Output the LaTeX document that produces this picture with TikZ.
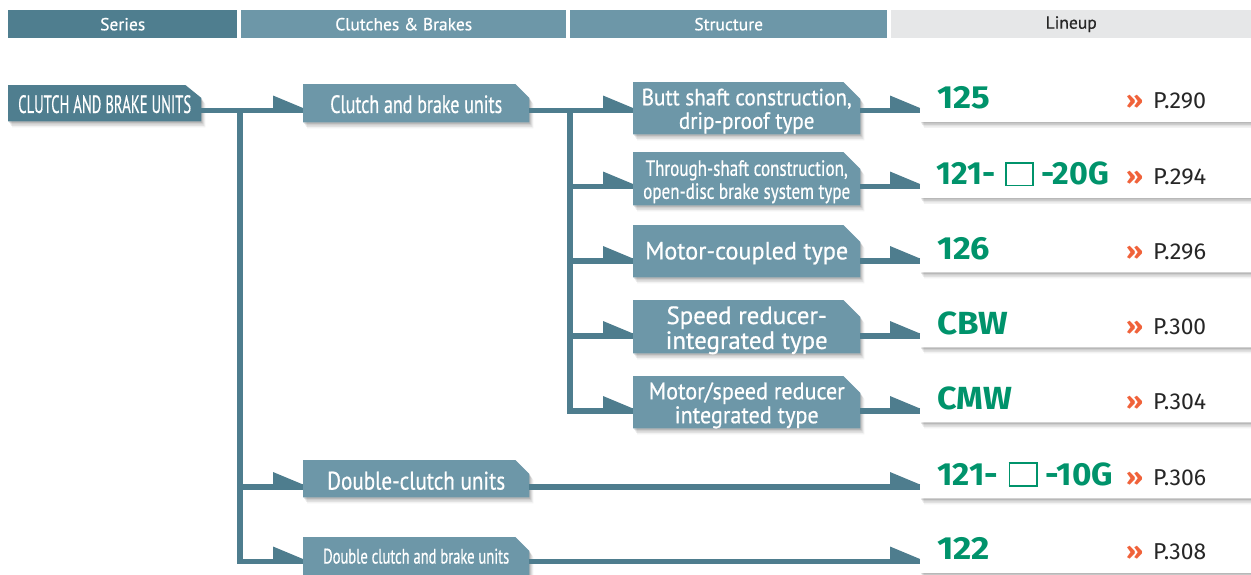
\documentclass[tikz,border=0pt]{standalone}
\usepackage{fontspec}
\setmainfont{PT Sans}[FakeBold=0.6]
\newfontfamily\numfont{Fira Sans}
\usetikzlibrary{calc,backgrounds}
\definecolor{dk}{RGB}{79,126,143}
\definecolor{lt}{RGB}{109,151,168}
\definecolor{ln}{RGB}{78,125,142}
\definecolor{hdgray}{RGB}{230,231,232}
\definecolor{grn}{RGB}{0,147,107}
\definecolor{org}{RGB}{240,98,58}
\newcommand\fitw[2]{\resizebox{#1}{\height}{#2}}
\newcommand\dn[2]{\raisebox{-#1}[\height][\depth]{#2}}
\newcommand\sqbox{\textcolor{grn}{\setlength\fboxrule{1.8pt}\setlength\fboxsep{0pt}\fbox{\rule{0pt}{21pt}\rule{25pt}{0pt}}}}
\newcommand\cutshape[4]{%
  \begin{scope}[on background layer]
    \foreach \sx/\sy/\op in {4/-6/0.05,3/-4.5/0.07,2/-3/0.09,1/-1.5/0.1}{
      \fill[black,opacity=\op] ([xshift=\sx pt,yshift=\sy pt]#1.south west) -- ([xshift=\sx pt,yshift=\sy pt]#1.north west) -- ([xshift=\sx pt-#3,yshift=\sy pt]#1.north east) -- ([xshift=\sx pt,yshift=\sy pt-#4]#1.north east) -- ([xshift=\sx pt,yshift=\sy pt]#1.south east) -- cycle;}
    \fill[#2] (#1.south west) -- (#1.north west) -- ([xshift=-#3]#1.north east) -- ([yshift=-#4]#1.north east) -- (#1.south east) -- cycle;
  \end{scope}}
\newcommand\flagto[2]{\fill[ln] ($(#1.west |- #2)+(-30,-2.5)$) -- ++(0,-12.5) -- ($(#1.west |- #2)+(0,-2.5)$) -- cycle;}
\begin{document}
\begin{tikzpicture}[x=1pt,y=-1pt,
  hdr/.style={anchor=north west, minimum height=28pt, inner sep=0pt, font=\fontsize{17.5}{17.5}\selectfont},
  bx/.style={anchor=north west, inner sep=0pt, text=white},
  lbx/.style={anchor=north west, inner sep=0pt, minimum width=345pt, minimum height=52pt},
  conn/.style={draw=ln, line width=5.5pt},
  num/.style={anchor=base west, inner sep=0pt, text=grn, font=\numfont\bfseries\fontsize{32}{32}\selectfont},
  gt/.style={anchor=base west, inner sep=0pt, text=org, font=\numfont\bfseries\fontsize{24}{24}\selectfont},
  pg/.style={anchor=base west, inner sep=0pt, text=black!85, font=\numfont\fontsize{23}{23}\selectfont}]
\useasboundingbox (0,0) rectangle (1251,574);
% header
\node[hdr, fill=dk, text=white, minimum width=229pt] (h1) at (8,10) {Series};
\node[hdr, fill=lt, text=white, minimum width=325pt] (h2) at (241,10) {Clutches \& Brakes};
\node[hdr, fill=lt, text=white, minimum width=317pt] (h3) at (570,10) {Structure};
\node[hdr, fill=hdgray, text=black!85, minimum width=360pt] (h4) at (891,10) {Lineup};
% rows
\foreach \n/\yy in {1/110.5,2/186.5,3/261,4/336,5/411,6/487,7/561.5} \coordinate (r\n) at (0,\yy);
% series / clutches
\node[bx, minimum width=193pt, minimum height=36pt, font=\fontsize{25}{27}\selectfont] (cbu) at (8,85) {\dn{1pt}{\fitw{173pt}{CLUTCH AND BRAKE UNITS}}\hspace{12pt}};
\cutshape{cbu}{dk}{16pt}{13pt}
\node[bx, minimum width=226pt, minimum height=38pt, font=\fontsize{25}{27}\selectfont] (cbu2) at (303,84) {\dn{1pt}{\fitw{172pt}{Clutch and brake units}}\hspace{10pt}};
\cutshape{cbu2}{lt}{14pt}{14pt}
\node[bx, minimum width=226pt, minimum height=37pt, font=\fontsize{25.5}{27}\selectfont] (dcu) at (303,460) {\dn{2pt}{\fitw{178pt}{Double-clutch units}}\hspace{13pt}};
\cutshape{dcu}{lt}{14pt}{14pt}
\node[bx, minimum width=226pt, minimum height=38pt, font=\fontsize{21}{23}\selectfont] (dcb) at (303,537) {\fitw{186pt}{Double clutch and brake units}\hspace{12pt}};
\cutshape{dcb}{lt}{14pt}{14pt}
% structure
\node[bx, minimum width=227pt, minimum height=52pt, font=\fontsize{23.5}{23}\selectfont] (s1) at (633,82) {\dn{4pt}{\fitw{210pt}{\begin{tabular}{@{}c@{}}Butt shaft construction,\\drip-proof type\end{tabular}}}\hspace{13pt}};
\node[bx, minimum width=227pt, minimum height=53pt, font=\fontsize{22}{23}\selectfont] (s2) at (633,152) {\dn{4pt}{\fitw{207pt}{\begin{tabular}{@{}c@{}}Through-shaft construction,\\open-disc brake system type\end{tabular}}}\hspace{10pt}};
\node[bx, minimum width=227pt, minimum height=52pt, font=\fontsize{25}{24}\selectfont] (s3) at (633,225) {\dn{2pt}{\fitw{203pt}{Motor-coupled type}}\hspace{7pt}};
\node[bx, minimum width=227pt, minimum height=53pt, font=\fontsize{25}{24}\selectfont] (s4) at (633,300) {\dn{4.5pt}{\fitw{162pt}{\begin{tabular}{@{}c@{}}Speed reducer-\\integrated type\end{tabular}}}\hspace{6pt}};
\node[bx, minimum width=227pt, minimum height=52pt, font=\fontsize{24}{23}\selectfont] (s5) at (633,376) {\dn{4pt}{\fitw{196pt}{\begin{tabular}{@{}c@{}}Motor/speed reducer\\integrated type\end{tabular}}}\hspace{14pt}};
\foreach \n in {1,...,5} {\cutshape{s\n}{lt}{17pt}{17pt}}
% lineup boxes
\foreach \n/\t in {1/69.5,2/145.5,3/220,4/295,5/370,6/446,7/520.5}{
  \node[lbx] (l\n) at (920,\t) {};
  \cutshape{l\n}{white}{37pt}{24pt}
}
\node[num] (n1) at (937,108.5) {\fitw{53pt}{125}};
\node[num] (n2) at (936,184.5) {\fitw{173pt}{121-\hspace{10pt}\sqbox\hspace{7pt}-20G}};
\node[num] (n3) at (937,259) {\fitw{53pt}{126}};
\node[num] (n4) at (937,334) {\fitw{71pt}{CBW}};
\node[num] (n5) at (937,409) {\fitw{75pt}{CMW}};
\node[num] (n6) at (937,485) {\fitw{176pt}{121-\hspace{10pt}\sqbox\hspace{7pt}-10G}};
\node[num] (n7) at (937,559.5) {\fitw{53pt}{122}};
\foreach \n/\yy/\p in {1/108.5/290,2/184.5/294,3/259/296,4/334/300,5/409/304,6/485/306,7/559.5/308}{
  \node[gt] (g\n) at (1126,\yy) {\fitw{17pt}{»}};
  \node[pg] (p\n) at (1153,\yy) {\fitw{53pt}{P.\p}};
}
% connectors
\coordinate (jA) at (240,110.5);
\coordinate (jB) at (570,110.5);
\draw[conn] (cbu.east |- r1) -- (cbu2.west |- r1);
\draw[conn] (jA) |- (dcu.west |- r6);
\draw[conn] (jA) |- (dcb.west |- r7);
\draw[conn] (cbu2.east |- r1) -- (s1.west |- r1);
\foreach \n in {2,...,5} {\draw[conn] (jB) |- (s\n.west |- r\n);}
\foreach \n in {1,...,5} {\draw[conn] (s\n.east |- r\n) -- (l\n.west |- r\n);}
\draw[conn] (dcu.east |- r6) -- (l6.west |- r6);
\draw[conn] (dcb.east |- r7) -- (l7.west |- r7);
\foreach \t/\r in {cbu2/r1,dcu/r6,dcb/r7,s1/r1,s2/r2,s3/r3,s4/r4,s5/r5,l1/r1,l2/r2,l3/r3,l4/r4,l5/r5,l6/r6,l7/r7} {\flagto{\t}{\r}}
\end{tikzpicture}
\end{document}
